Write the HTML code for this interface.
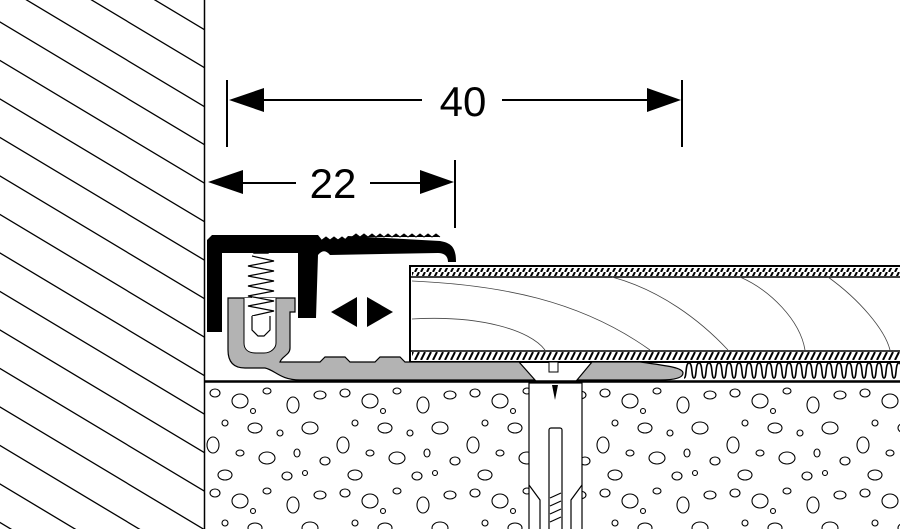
<!DOCTYPE html>
<html><head><meta charset="utf-8"><style>
html,body{margin:0;padding:0;background:#fff;overflow:hidden;width:900px;height:529px;}
svg{display:block;}
</style></head><body>
<svg width="900" height="529" viewBox="0 0 900 529" xmlns="http://www.w3.org/2000/svg">
<defs>
<clipPath id="wall"><rect x="0" y="0" width="205" height="529"/></clipPath>
<pattern id="peb" x="205" y="383" width="130" height="100" patternUnits="userSpaceOnUse">
<g fill="none" stroke="#000" stroke-width="1.1">
<ellipse cx="10" cy="10" rx="5" ry="4"/>
<ellipse cx="35" cy="18" rx="8" ry="7"/>
<ellipse cx="62" cy="8" rx="4" ry="3"/>
<ellipse cx="88" cy="22" rx="6" ry="8"/>
<ellipse cx="115" cy="12" rx="6" ry="4"/>
<ellipse cx="20" cy="40" rx="3" ry="3"/>
<ellipse cx="50" cy="45" rx="7" ry="5"/>
<ellipse cx="75" cy="50" rx="3" ry="3"/>
<ellipse cx="105" cy="45" rx="8" ry="6"/>
<ellipse cx="8" cy="62" rx="6" ry="8"/>
<ellipse cx="35" cy="70" rx="4" ry="3"/>
<ellipse cx="62" cy="75" rx="8" ry="6"/>
<ellipse cx="92" cy="70" rx="3" ry="4"/>
<ellipse cx="120" cy="78" rx="5" ry="4"/>
<ellipse cx="20" cy="92" rx="7" ry="5"/>
<ellipse cx="82" cy="93" rx="5" ry="4"/>
<ellipse cx="48" cy="28" rx="2.5" ry="2.5"/>
<ellipse cx="100" cy="90" rx="2.5" ry="2.5"/>
</g>
</pattern>
<pattern id="hatch" width="6" height="8" patternUnits="userSpaceOnUse">
<rect width="6" height="8" fill="#fff"/>
<line x1="1" y1="8" x2="5" y2="0" stroke="#000" stroke-width="2"/>
</pattern>
</defs>

<g clip-path="url(#wall)" stroke="#000" stroke-width="1.3">
<g id="wl"><line x1="-400" y1="-218" x2="300" y2="202"/></g>
<use href="#wl" y="-385"/><use href="#wl" y="-346"/><use href="#wl" y="-308"/><use href="#wl" y="-269"/><use href="#wl" y="-231"/><use href="#wl" y="-192"/><use href="#wl" y="-154"/><use href="#wl" y="-115"/><use href="#wl" y="-77"/><use href="#wl" y="-38"/>
<use href="#wl" y="38.5"/><use href="#wl" y="77"/><use href="#wl" y="115.5"/><use href="#wl" y="154"/><use href="#wl" y="192.5"/><use href="#wl" y="231"/><use href="#wl" y="269.5"/><use href="#wl" y="308"/><use href="#wl" y="346.5"/><use href="#wl" y="385"/><use href="#wl" y="423.5"/><use href="#wl" y="462"/><use href="#wl" y="500.5"/><use href="#wl" y="539"/><use href="#wl" y="577.5"/>
</g>
<line x1="204.5" y1="0" x2="204.5" y2="529" stroke="#000" stroke-width="1.5"/>

<rect x="206" y="383" width="694" height="146" fill="url(#peb)"/>
<line x1="205" y1="381.5" x2="900" y2="381.5" stroke="#000" stroke-width="2.5"/>

<rect x="529" y="383" width="53" height="150" fill="#fff" stroke="#000" stroke-width="1.2"/>
<rect x="549" y="428" width="13" height="110" rx="2" fill="#fff" stroke="#000" stroke-width="1.2"/>
<polygon points="552,385 558,385 555,400" fill="#000"/>
<g stroke="#000" stroke-width="1.2" fill="none">
<path d="M529,485 L540,500 L540,529"/><path d="M582,485 L571,500 L571,529"/>
<line x1="550" y1="498" x2="561" y2="493"/><line x1="550" y1="506" x2="561" y2="501"/><line x1="550" y1="514" x2="561" y2="509"/><line x1="550" y1="522" x2="561" y2="517"/>
</g>

<path d="M684,378 c3,0 1,-15 5,-15 c4,0 2,15 5,15 c3,0 1,-15 5,-15 c4,0 2,15 5,15 c3,0 1,-15 5,-15 c4,0 2,15 5,15 c3,0 1,-15 5,-15 c4,0 2,15 5,15 c3,0 1,-15 5,-15 c4,0 2,15 5,15 c3,0 1,-15 5,-15 c4,0 2,15 5,15 c3,0 1,-15 5,-15 c4,0 2,15 5,15 c3,0 1,-15 5,-15 c4,0 2,15 5,15 c3,0 1,-15 5,-15 c4,0 2,15 5,15 c3,0 1,-15 5,-15 c4,0 2,15 5,15 c3,0 1,-15 5,-15 c4,0 2,15 5,15 c3,0 1,-15 5,-15 c4,0 2,15 5,15 c3,0 1,-15 5,-15 c4,0 2,15 5,15 c3,0 1,-15 5,-15 c4,0 2,15 5,15 c3,0 1,-15 5,-15 c4,0 2,15 5,15 c3,0 1,-15 5,-15 c4,0 2,15 5,15 c3,0 1,-15 5,-15 c4,0 2,15 5,15 c3,0 1,-15 5,-15 c4,0 2,15 5,15 c3,0 1,-15 5,-15 c4,0 2,15 5,15 c3,0 1,-15 5,-15 c4,0 2,15 5,15 c3,0 1,-15 5,-15 c4,0 2,15 5,15 c3,0 1,-15 5,-15 c4,0 2,15 5,15 c3,0 1,-15 5,-15 c4,0 2,15 5,15" fill="none" stroke="#000" stroke-width="1.6"/>

<rect x="410" y="266" width="492" height="96" fill="#fff" stroke="#000" stroke-width="2"/>
<rect x="412" y="268" width="490" height="8" fill="url(#hatch)"/>
<line x1="410" y1="277" x2="900" y2="277" stroke="#000" stroke-width="1.5"/>
<rect x="412" y="352" width="490" height="8" fill="url(#hatch)"/>
<line x1="410" y1="351" x2="900" y2="351" stroke="#000" stroke-width="1.5"/>
<g fill="none" stroke="#444" stroke-width="0.8">
<path d="M412,281 C500,285 580,300 650,350"/>
<path d="M412,319 C480,315 530,330 545,350"/>
<path d="M612,277 C660,290 700,320 728,350"/>
<path d="M740,277 C770,290 800,320 805,350"/>
<path d="M828,277 C860,300 885,330 890,350"/>
</g>

<path d="M228,298 L295,298 L295,312 L290,312 L290,348 C290,355 282,356 280,362 L320,362 L325,357 L345,357 L350,362 L375,362 L380,357 L400,357 L405,362 L519,362 L535,380 L300,380 C280,380 275,370 265,368 L245,368 C232,368 228,360 228,350 Z" fill="#b3b3b3" stroke="#000" stroke-width="1.2"/>
<path d="M592,362 L640,362 C670,366 683,368 683,373 C683,378 675,380 660,380 L577,380 Z" fill="#b3b3b3" stroke="#000" stroke-width="1.2"/>
<rect x="549" y="362" width="9" height="10" fill="#fff" stroke="#000" stroke-width="1"/>
<path d="M244,298 L244,343 C244,350 249,353 256,353 L264,353 C271,353 276,348 276,343 L276,298" fill="#fff" stroke="#000" stroke-width="1"/>

<polygon points="235,236 287,236 268,253 254,253" fill="#fff" stroke="#000" stroke-width="1.5"/>
<g fill="#fff" stroke="#000" stroke-width="1.2">
<path d="M252,256 L274,261 L248,266 L274,271 L248,276 L274,281 L248,286 L274,291 L248,296 L274,301 L248,306 L274,311 L252,316"/>
<path d="M252,316 L252,330 L258,336 L264,336 L270,330 L270,316"/>
</g>

<path d="M212,235 L318,235 L322,240 L345,239 L348,236 L440,241 C452,243 456,248 456,262 L448,262 C448,256 444,253 438,253 L330,255 C326,250 322,250 318,255 L316,318 L298,318 L298,253 L222,253 L222,332 L207,332 L207,240 Z" fill="#000"/>
<path d="M322,240 l4,-3 l4,3 l4,-3 l4,3 l4,-3 l4,3 M352,237 l4,-3 l4,3 l4,-3 l4,3 l4,-3 l4,3 l4,-3 l4,3 l4,-3 l4,3 l4,-3 l4,3 l4,-3 l4,3 l4,-3 l4,3 l4,-3 l4,3 l4,-3 l4,3 l4,-3 l4,3" fill="#000" stroke="#000" stroke-width="1"/>

<polygon points="331,312 357,297 357,327" fill="#000"/>
<polygon points="393,312 367,297 367,327" fill="#000"/>

<g stroke="#000" stroke-width="2" fill="none">
<line x1="227" y1="80" x2="227" y2="147"/>
<line x1="682" y1="80" x2="682" y2="147"/>
<line x1="240" y1="100" x2="422" y2="100"/>
<line x1="502" y1="100" x2="670" y2="100"/>
<line x1="455" y1="160" x2="455" y2="228"/>
<line x1="220" y1="183" x2="296" y2="183"/>
<line x1="370" y1="183" x2="445" y2="183"/>
</g>
<polygon points="229,100 264,88 264,112" fill="#000"/>
<polygon points="681,100 647,88 647,112" fill="#000"/>
<polygon points="208,182 243,170 243,194" fill="#000"/>
<polygon points="454,182 420,170 420,194" fill="#000"/>
<text x="463" y="116" font-family="Liberation Sans, sans-serif" font-size="42" text-anchor="middle">40</text>
<text x="333" y="198" font-family="Liberation Sans, sans-serif" font-size="42" text-anchor="middle">22</text>
</svg>
</body></html>
